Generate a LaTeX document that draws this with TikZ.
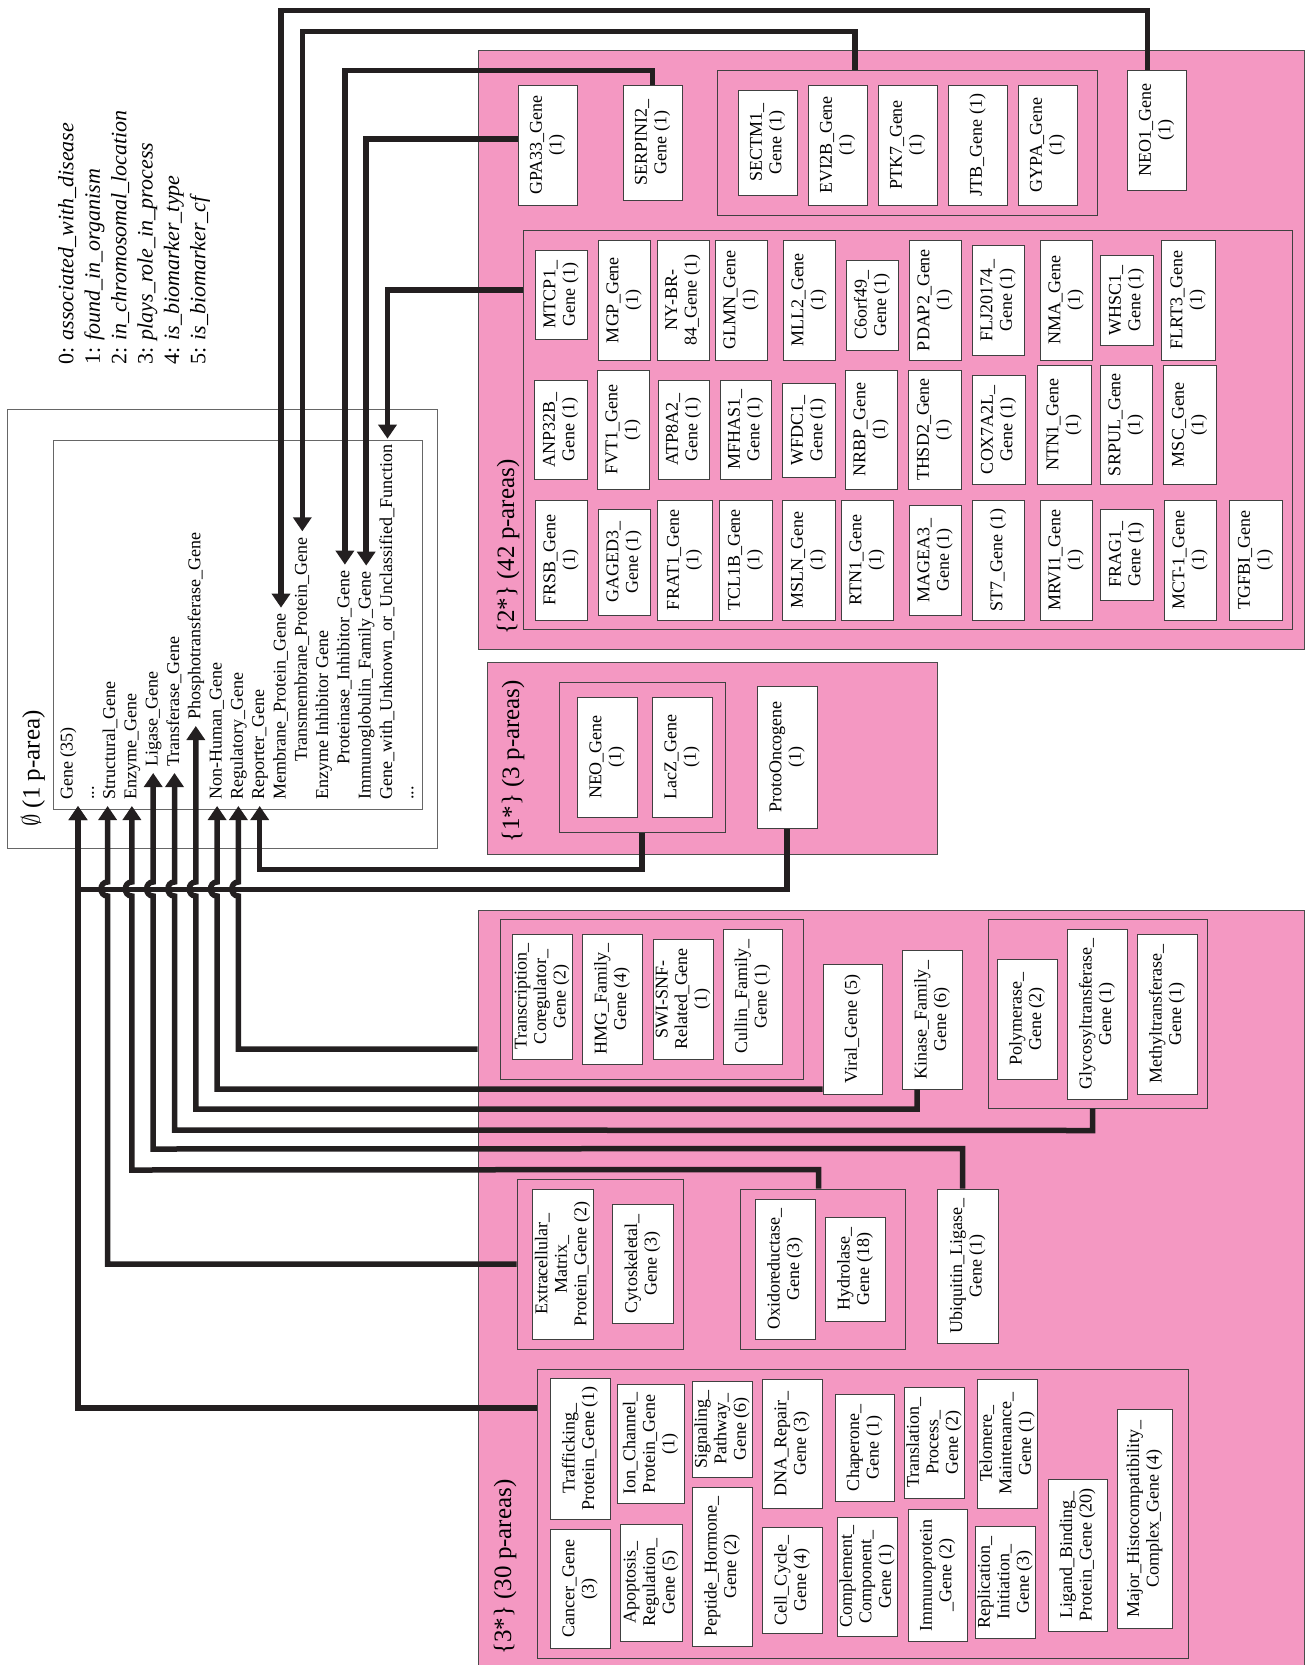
\documentclass[tikz,border=0pt]{standalone}
\usepackage{fontspec}
\setmainfont{Liberation Serif}
\usepackage{tikz}
\usetikzlibrary{arrows.meta,positioning,calc}
\definecolor{parea}{RGB}{244,152,194}
\definecolor{wire}{RGB}{35,31,32}
\newcommand{\boxfont}{\fontsize{18}{19.5}\selectfont}
\newcommand{\listfont}{\fontsize{18}{20}\selectfont}
\newcommand{\legfont}{\fontsize{22}{26.4}\selectfont}
\newcommand{\labfont}{\fontsize{25}{28}\selectfont}
\newcommand{\moredots}{...}
\tikzset{
  area/.style={draw=black!70, line width=0.8pt, fill=parea, inner sep=0pt},
  grp/.style={draw=black!75, line width=1pt, inner sep=0pt},
  gbox/.style={rotate=90, draw=black!75, line width=1pt, fill=white, align=center, font=\boxfont, inner sep=1pt},
  gb/.style 2 args={gbox, minimum width=#1pt, minimum height=#2pt},
  entry/.style={rotate=90, anchor=west, inner xsep=6pt, inner ysep=0pt, text height=13pt, text depth=4pt, font=\listfont},
  alabel/.style={rotate=90, anchor=west, inner sep=0pt, font=\labfont},
  lbox/.style={draw=black!60, line width=0.8pt},
  link/.style={wire, line width=5.5pt, -{Triangle[length=14pt,width=18pt]}},
}

\begin{document}
\begin{tikzpicture}[x=1pt,y=-1pt]
  \useasboundingbox (0,0) rectangle (1304,1665);

  % relation legend
  \node[rotate=90, anchor=north west, inner sep=0pt, align=left, font=\legfont] (legend) at (58,365)
    {0: \textit{associated\_with\_disease}\\
     1: \textit{found\_in\_organism}\\
     2: \textit{in\_chromosomal\_location}\\
     3: \textit{plays\_role\_in\_process}\\
     4: \textit{is\_biomarker\_type}\\
     5: \textit{is\_biomarker\_cf}};

  % root area with its class list
  \draw[lbox] (7,409) rectangle (437,848);
  \draw[lbox] (53,440) rectangle (422,809);
  \node[alabel] (proot) at (33,827) {$\emptyset$ (1 p-area)};
  \foreach \nm/\i/\y/\txt in {gene/0/806/Gene (35), dotsa/1/806/\moredots, structural/2/806/Structural\_Gene,
      enzyme/3/806/Enzyme\_Gene, ligase/4/773/Ligase\_Gene, transf/5/773/Transferase\_Gene,
      phospho/6/726/Phosphotransferase\_Gene, nonhum/7/806/Non-Human\_Gene, regul/8/806/Regulatory\_Gene,
      reporter/9/806/Reporter\_Gene, membr/10/806/Membrane\_Protein\_Gene,
      transm/11/768/Transmembrane\_Protein\_Gene, enzinh/12/806/Enzyme Inhibitor Gene,
      protinh/13/771/Proteinase\_Inhibitor\_Gene, immglob/14/806/Immunoglobulin\_Family\_Gene,
      unknown/15/806/Gene\_with\_Unknown\_or\_Unclassified\_Function, dotsb/16/806/\moredots}
    \node[entry] (\nm) at (68+21.3*\i,\y) {\txt};
  \coordinate (g35in) at ([xshift=10pt]gene.west);

  % pink p-area regions
  \node[area, minimum width=826pt, minimum height=599pt] (area2) at (891,349.5) {};
  \node[area, minimum width=450pt, minimum height=192pt] (area1) at (712,758) {};
  \node[area, minimum width=826pt, minimum height=755pt] (area3) at (891,1287.5) {};
  \node[alabel] (lab2) at (508,635) {\{2*\} (42 p-areas)};
  \node[alabel] (lab1) at (513,843) {\{1*\} (3 p-areas)};
  \node[alabel] (lab3) at (505,1655) {\{3*\} (30 p-areas)};

  % groups
  \node[grp, minimum width=380pt, minimum height=145pt] (topgrp) at (907,142.5) {};
  \node[grp, minimum width=769pt, minimum height=399pt] (g42) at (907.5,429.5) {};
  \node[grp, minimum width=166pt, minimum height=150pt] (neogrp) at (642,757) {};
  \node[grp, minimum width=303pt, minimum height=160pt] (trgrp) at (651.5,999) {};
  \node[grp, minimum width=219pt, minimum height=189pt] (glygrp) at (1097.5,1013.5) {};
  \node[grp, minimum width=166pt, minimum height=170pt] (ecmgrp) at (600,1264) {};
  \node[grp, minimum width=165pt, minimum height=160pt] (oxgrp) at (822.5,1269) {};
  \node[grp, minimum width=651pt, minimum height=289pt] (trafgrp) at (862.5,1513.5) {};

  % {2*}
  \node[gb={120}{59}] (gpa33) at (547.5,145) {GPA33\_Gene\\(1)};
  \node[gb={115}{59}] (serpini) at (652.5,142.5) {SERPINI2\_\\Gene (1)};
  \node[gb={105}{59}] (sectm1) at (767.5,142.5) {SECTM1\_\\Gene (1)};
  \node[gb={120}{59}] (evi2b) at (837.5,145) {EVI2B\_Gene\\(1)};
  \node[gb={120}{59}] (ptk7) at (907.5,145) {PTK7\_Gene\\(1)};
  \node[gb={120}{59}] (jtb) at (977.5,145) {JTB\_Gene (1)};
  \node[gb={120}{59}] (gypa) at (1047.5,145) {GYPA\_Gene\\(1)};
  \node[gb={120}{59}] (neo1) at (1156.5,130) {NEO1\_Gene\\(1)};

  \node[gb={89}{52}] (mtcp1) at (561,294.5) {MTCP1\_\\Gene (1)};
  \node[gb={120}{52}] (mgp) at (624,300) {MGP\_Gene\\(1)};
  \node[gb={120}{52}] (nybr) at (683,300) {NY-BR-\\84\_Gene (1)};
  \node[gb={120}{52}] (glmn) at (741,300) {GLMN\_Gene\\(1)};
  \node[gb={120}{52}] (mll2) at (809,300) {MLL2\_Gene\\(1)};
  \node[gb={90}{52}] (c6orf) at (872,305) {C6orf49\_\\Gene (1)};
  \node[gb={120}{52}] (pdap2) at (935,300) {PDAP2\_Gene\\(1)};
  \node[gb={110}{52}] (flj) at (998,300) {FLJ20174\_\\Gene (1)};
  \node[gb={120}{52}] (nma) at (1066,300) {NMA\_Gene\\(1)};
  \node[gb={90}{53}] (whsc1) at (1126.5,300) {WHSC1\_\\Gene (1)};
  \node[gb={120}{54}] (flrt3) at (1188,300) {FLRT3\_Gene\\(1)};

  \node[gb={99}{53}] (anp32b) at (560.5,429.5) {ANP32B\_\\Gene (1)};
  \node[gb={119}{52}] (fvt1) at (623,429.5) {FVT1\_Gene\\(1)};
  \node[gb={99}{51}] (atp8a2) at (683.5,429.5) {ATP8A2\_\\Gene (1)};
  \node[gb={99}{51}] (mfhas1) at (745.5,429.5) {MFHAS1\_\\Gene (1)};
  \node[gb={94}{53}] (wfdc1) at (808.5,430) {WFDC1\_\\Gene (1)};
  \node[gb={119}{52}] (nrbp) at (871,429.5) {NRBP\_Gene\\(1)};
  \node[gb={119}{53}] (thsd2) at (934.5,429.5) {THSD2\_Gene\\(1)};
  \node[gb={109}{53}] (cox7a2l) at (998.5,429.5) {COX7A2L\_\\Gene (1)};
  \node[gb={119}{54}] (ntn1) at (1064,424.5) {NTN1\_Gene\\(1)};
  \node[gb={119}{52}] (srpul) at (1126,424.5) {SRPUL\_Gene\\(1)};
  \node[gb={119}{53}] (msc) at (1189.5,424.5) {MSC\_Gene\\(1)};

  \node[gb={120}{52}] (frsb) at (561,560) {FRSB\_Gene\\(1)};
  \node[gb={106}{52}] (gaged3) at (624,562) {GAGED3\_\\Gene (1)};
  \node[gb={120}{55}] (frat1) at (684.5,560) {FRAT1\_Gene\\(1)};
  \node[gb={120}{53}] (tcl1b) at (745.5,560) {TCL1B\_Gene\\(1)};
  \node[gb={120}{53}] (msln) at (808.5,560) {MSLN\_Gene\\(1)};
  \node[gb={120}{52}] (rtn1) at (867,560) {RTN1\_Gene\\(1)};
  \node[gb={110}{52}] (magea3) at (935,560) {MAGEA3\_\\Gene (1)};
  \node[gb={120}{52}] (st7) at (998,560) {ST7\_Gene (1)};
  \node[gb={120}{52}] (mrvi1) at (1066,560) {MRVI1\_Gene\\(1)};
  \node[gb={91}{53}] (frag1) at (1126.5,554.5) {FRAG1\_\\Gene (1)};
  \node[gb={120}{52}] (mct1) at (1190,560) {MCT-1\_Gene\\(1)};
  \node[gb={120}{53}] (tgfbi) at (1255.5,560) {TGFBI\_Gene\\(1)};

  % {1*}
  \node[gb={120}{60}] (neo) at (607,757) {NEO\_Gene\\(1)};
  \node[gb={120}{60}] (lacz) at (682,757) {LacZ\_Gene\\(1)};
  \node[gb={142}{60}] (proto) at (787,757) {ProtoOncogene\\(1)};

  % {3*}
  \node[gb={125}{60}] (transc) at (542,996.5) {Transcription\_\\Coregulator\_\\Gene (2)};
  \node[gb={130}{60}] (hmg) at (612,999) {HMG\_Family\_\\Gene (4)};
  \node[gb={120}{60}] (swi) at (683,999) {SWI-SNF-\\Related\_Gene\\(1)};
  \node[gb={135}{59}] (cullin) at (752.5,996.5) {Cullin\_Family\_\\Gene (1)};
  \node[gb={130}{59}] (viral) at (852.5,1029) {Viral\_Gene (5)};
  \node[gb={139}{60}] (kinase) at (932,1019.5) {Kinase\_Family\_\\Gene (6)};
  \node[gb={120}{60}] (polym) at (1027,1019) {Polymerase\_\\Gene (2)};
  \node[gb={170}{60}] (glyco) at (1097,1014) {Glycosyltransferase\_\\Gene (1)};
  \node[gb={160}{60}] (methyl) at (1167,1014) {Methyltransferase\_\\Gene (1)};

  \node[gb={150}{61}] (ecm) at (562.5,1264) {Extracellular\_\\Matrix\_\\Protein\_Gene (2)};
  \node[gb={119}{61}] (cyto) at (642.5,1263.5) {Cytoskeletal\_\\Gene (3)};
  \node[gb={140}{60}] (oxido) at (785,1269) {Oxidoreductase\_\\Gene (3)};
  \node[gb={104}{60}] (hydro) at (855,1269) {Hydrolase\_\\Gene (18)};
  \node[gb={154}{61}] (ubiq) at (967.5,1266) {Ubiquitin\_Ligase\_\\Gene (1)};

  \node[gb={141}{60}] (traf) at (580,1448.5) {Trafficking\_\\Protein\_Gene (1)};
  \node[gb={119}{67}] (ionch) at (650.5,1443.5) {Ion\_Channel\_\\Protein\_Gene\\(1)};
  \node[gb={96}{60}] (signal) at (722,1429) {Signaling\_\\Pathway\_\\Gene (6)};
  \node[gb={129}{60}] (dnarep) at (792,1443.5) {DNA\_Repair\_\\Gene (3)};
  \node[gb={107}{59}] (chap) at (864.5,1447.5) {Chaperone\_\\Gene (1)};
  \node[gb={111}{60}] (transl) at (934,1442.5) {Translation\_\\Process\_\\Gene (2)};
  \node[gb={129}{60}] (telo) at (1007,1443.5) {Telomere\_\\Maintenance\_\\Gene (1)};
  \node[gb={119}{60}] (cancer) at (580,1588.5) {Cancer\_Gene\\(3)};
  \node[gb={117}{62}] (apop) at (651,1582.5) {Apoptosis\_\\Regulation\_\\Gene (5)};
  \node[gb={159}{60}] (peptide) at (722,1566.5) {Peptide\_Hormone\_\\Gene (2)};
  \node[gb={106}{60}] (cellc) at (792,1580) {Cell\_Cycle\_\\Gene (4)};
  \node[gb={119}{60}] (compl) at (867,1576.5) {Complement\_\\Component\_\\Gene (1)};
  \node[gb={132}{59}] (immpro) at (937.5,1575) {Immunoprotein\\\_Gene (2)};
  \node[gb={112}{60}] (repl) at (1005,1582) {Replication\_\\Initiation\_\\Gene (3)};
  \node[gb={152}{59}] (ligand) at (1077.5,1555) {Ligand\_Binding\_\\Protein\_Gene (20)};
  \node[gb={219}{55}] (mhc) at (1144.5,1518.5) {Major\_Histocompatibility\_\\Complex\_Gene (4)};

  % connectors from the top
  \draw[link] ([xshift=-9pt]neo1.east) -- ++(0,-59) -| (membr.east);
  \draw[link] ([xshift=-52pt]topgrp.north) -- ++(0,-38) -| (transm.east);
  \draw[link] (serpini.east) -- ++(0,-14) -| (protinh.east);
  \draw[link] ([yshift=6pt]gpa33.north) -| (immglob.east);
  \draw[link] (g42.west |- 0,290) -| (unknown.east);

  % connectors from below
  \draw[link] (neogrp.south) -- ++(0,37) -| (reporter.west);
  \draw[link] (proto.west) -- ++(0,61) -| (g35in);
  \draw[link] (trafgrp.west |- 0,1408) -| (g35in);
  \draw[link] (area3.west |- 0,1049) -- (regul.west |- 0,1049) -- (regul.west |- 0,896)
    to[out=180,in=180,looseness=1.6] (regul.west |- 0,882) -- (regul.west);
  \draw[link] (viral.north |- 0,1089) -- (nonhum.west |- 0,1089) -- (nonhum.west |- 0,896)
    to[out=180,in=180,looseness=1.6] (nonhum.west |- 0,882) -- (nonhum.west);
  \draw[link] (kinase.west -| 917,0) -- (917,1109) -- (phospho.west |- 0,1109) -- (phospho.west |- 0,896)
    to[out=180,in=180,looseness=1.6] (phospho.west |- 0,882) -- (phospho.west);
  \draw[link] ([xshift=-5pt]glygrp.south) -- ++(0,22) -- (transf.west |- 0,1130) -- (transf.west |- 0,896)
    to[out=180,in=180,looseness=1.6] (transf.west |- 0,882) -- (transf.west);
  \draw[link] ([xshift=-5pt]ubiq.east) -- ++(0,-40) -- (ligase.west |- 0,1149) -- (ligase.west |- 0,896)
    to[out=180,in=180,looseness=1.6] (ligase.west |- 0,882) -- (ligase.west);
  \draw[link] ([xshift=-4pt]oxgrp.north) -- ++(0,-19) -- (enzyme.west |- 0,1170) -- (enzyme.west |- 0,896)
    to[out=180,in=180,looseness=1.6] (enzyme.west |- 0,882) -- (enzyme.west);
  \draw[link] (ecmgrp.west) -- ([xshift=-3pt]structural.west |- ecmgrp.west) -- ([xshift=-3pt]structural.west |- 0,896)
    to[out=180,in=180,looseness=1.6] ([xshift=-3pt]structural.west |- 0,882) -- ([xshift=-3pt]structural.west);
\end{tikzpicture}
\end{document}
